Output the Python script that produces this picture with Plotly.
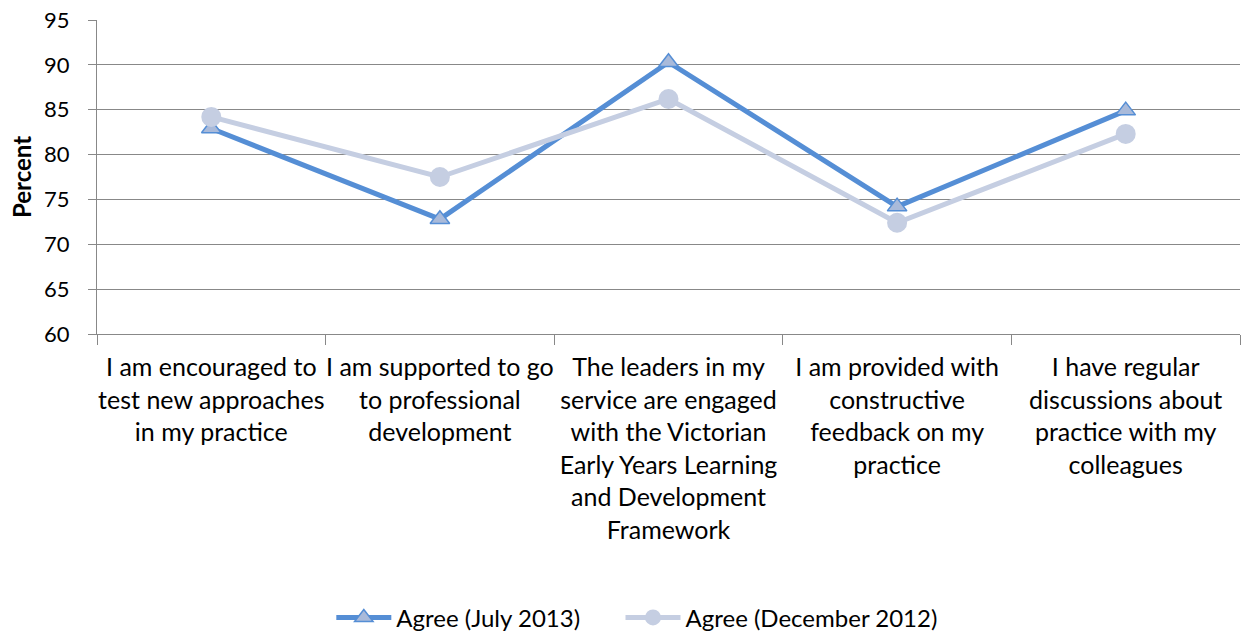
import plotly.graph_objects as go

categories = [
    "I am encouraged to<br>test new approaches<br>in my practice",
    "I am supported to go<br>to professional<br>development",
    "The leaders in my<br>service are engaged<br>with the Victorian<br>Early Years Learning<br>and Development<br>Framework",
    "I am provided with<br>constructive<br>feedback on my<br>practice",
    "I have regular<br>discussions about<br>practice with my<br>colleagues",
]
agree_jul_2013 = [82.9, 72.8, 90.3, 74.2, 84.9]
agree_dec_2012 = [84.2, 77.5, 86.2, 72.4, 82.3]

FONT = "Lato"
GRID = "#888888"

fig = go.Figure()
fig.add_trace(go.Scatter(
    x=categories, y=agree_jul_2013, name="Agree (July 2013)",
    mode="lines+markers", legend="legend",
    line=dict(color="#558ED5", width=5),
    marker=dict(symbol="triangle-up", size=17, color="#A9BADA",
                line=dict(color="#558ED5", width=1.5)),
))
fig.add_trace(go.Scatter(
    x=categories, y=agree_dec_2012, name="Agree (December 2012)",
    mode="lines+markers", legend="legend2",
    line=dict(color="#C5CEE2", width=5),
    marker=dict(symbol="circle", size=20, color="#C5CEE2",
                line=dict(color="#C5CEE2", width=0)),
))

legend_style = dict(orientation="h", xanchor="left", y=-0.904,
                    yanchor="middle", font=dict(size=24), itemwidth=55,
                    bgcolor="rgba(0,0,0,0)")

fig.update_layout(
    width=1244, height=635,
    margin=dict(l=97, r=4, t=20, b=301, autoexpand=False),
    paper_bgcolor="white", plot_bgcolor="white",
    font=dict(family=FONT, size=24, color="black"),
    showlegend=True,
    legend=dict(x=0.205, **legend_style),
    legend2=dict(x=0.458, **legend_style),
    xaxis=dict(
        type="category", tickson="boundaries", ticks="outside",
        ticklen=10, tickcolor=GRID, tickwidth=1.3,
        showline=True, linecolor=GRID, linewidth=1.3,
        showgrid=False, tickfont=dict(size=25), tickangle=0,
        range=[-0.5, 4.5], automargin=False, ticklabelstandoff=11,
    ),
    yaxis=dict(
        range=[60, 95], dtick=5, ticks="outside", ticklen=8,
        tickcolor=GRID, tickwidth=1.3,
        showline=True, linecolor=GRID, linewidth=1.3,
        showgrid=True, gridcolor=GRID, gridwidth=1.3, zeroline=False,
        tickfont=dict(size=22), automargin=False, ticklabelstandoff=14,
        title=dict(text="<b>Percent</b>", font=dict(size=24), standoff=5),
    ),
)

fig.write_html("out.html")
